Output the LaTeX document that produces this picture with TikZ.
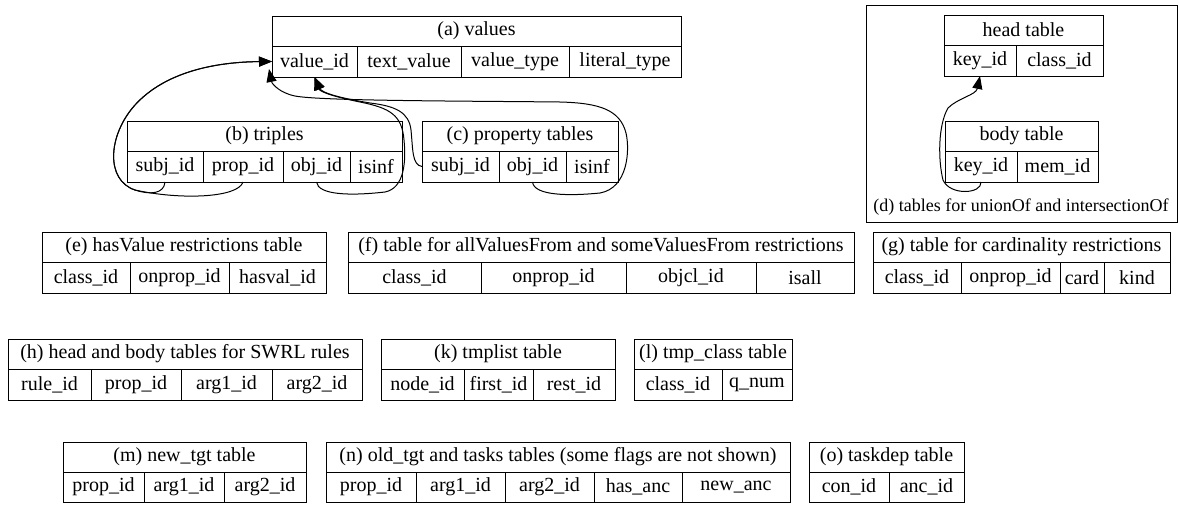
\documentclass[tikz,border=0pt]{standalone}
\usepackage{fontspec}
\setmainfont{Liberation Serif}
\usetikzlibrary{arrows.meta,calc}
\tikzset{
 cell/.style={draw=black, line width=0.8pt, inner sep=0pt, outer sep=0pt, anchor=north west, font=\fontsize{20}{24}\selectfont},
 edge/.style={draw=black, line width=1pt, -{Triangle[length=13pt,width=10pt]}},
 lbl/.style={inner sep=0pt, font=\fontsize{18}{22}\selectfont},
 cluster/.style={draw=black, line width=0.8pt, inner sep=0pt, anchor=north west}
}
\newcommand{\tblcell}[6]{\node[cell, minimum width=#4pt, minimum height=#5pt] (#1) at (#2,#3) {#6};}
\begin{document}
\begin{tikzpicture}[x=1pt,y=-1pt]
\useasboundingbox (0,0) rectangle (1179,504);
% (a)
\tblcell{a}{272}{16}{409}{30}{(a) values}
\tblcell{a1}{272}{46}{85}{31}{value\_id}
\tblcell{a2}{357}{46}{104}{31}{text\_value}
\tblcell{a3}{461}{46}{108}{31}{value\_type}
\tblcell{a4}{569}{46}{112}{31}{literal\_type}
% (b)
\tblcell{b}{127}{121}{275}{30}{(b) triples}
\tblcell{b1}{127}{151}{76}{31}{subj\_id}
\tblcell{b2}{203}{151}{80}{31}{prop\_id}
\tblcell{b3}{283}{151}{67}{31}{obj\_id}
\tblcell{b4}{350}{151}{52}{31}{isinf}
% (c)
\tblcell{c}{422}{121}{196}{30}{(c) property tables}
\tblcell{c1}{422}{151}{77}{31}{subj\_id}
\tblcell{c2}{499}{151}{67}{31}{obj\_id}
\tblcell{c3}{566}{151}{52}{31}{isinf}
% (d)
\node[cluster, minimum width=311pt, minimum height=217pt] (dbox) at (866,5) {};
\tblcell{hd}{944}{15}{159}{30}{head table}
\tblcell{hd1}{944}{45}{72}{31}{key\_id}
\tblcell{hd2}{1016}{45}{87}{31}{class\_id}
\tblcell{bd}{945}{121}{153}{30}{body table}
\tblcell{bd1}{945}{151}{72}{31}{key\_id}
\tblcell{bd2}{1017}{151}{81}{31}{mem\_id}
\node[lbl] (dlabel) at (1021,207) {(d) tables for unionOf and intersectionOf};
% (e)
\tblcell{e}{42}{232}{284}{30}{(e) hasValue restrictions table}
\tblcell{e1}{42}{262}{88}{31}{class\_id}
\tblcell{e2}{130}{262}{99}{31}{onprop\_id}
\tblcell{e3}{229}{262}{97}{31}{hasval\_id}
% (f)
\tblcell{f}{348}{232}{506}{30}{(f) table for allValuesFrom and someValuesFrom restrictions}
\tblcell{f1}{348}{262}{133}{31}{class\_id}
\tblcell{f2}{481}{262}{145}{31}{onprop\_id}
\tblcell{f3}{626}{262}{130}{31}{objcl\_id}
\tblcell{f4}{756}{262}{98}{31}{isall}
% (g)
\tblcell{g}{873}{232}{297}{30}{(g) table for cardinality restrictions}
\tblcell{g1}{873}{262}{88}{31}{class\_id}
\tblcell{g2}{961}{262}{99}{31}{onprop\_id}
\tblcell{g3}{1060}{262}{44}{31}{card}
\tblcell{g4}{1104}{262}{66}{31}{kind}
% (h)
\tblcell{h}{8}{339}{354}{30}{(h) head and body tables for SWRL rules}
\tblcell{h1}{8}{369}{83}{31}{rule\_id}
\tblcell{h2}{91}{369}{90}{31}{prop\_id}
\tblcell{h3}{181}{369}{91}{31}{arg1\_id}
\tblcell{h4}{272}{369}{90}{31}{arg2\_id}
% (k)
\tblcell{k}{381}{339}{234}{30}{(k) tmplist table}
\tblcell{k1}{381}{369}{83}{31}{node\_id}
\tblcell{k2}{464}{369}{69}{31}{first\_id}
\tblcell{k3}{533}{369}{82}{31}{rest\_id}
% (l)
\tblcell{l}{634}{339}{158}{30}{(l) tmp\_class table}
\tblcell{l1}{634}{369}{88}{31}{class\_id}
\tblcell{l2}{722}{369}{70}{31}{q\_num}
% (m)
\tblcell{m}{63}{442}{243}{30}{(m) new\_tgt table}
\tblcell{m1}{63}{472}{81}{30}{prop\_id}
\tblcell{m2}{144}{472}{80}{30}{arg1\_id}
\tblcell{m3}{224}{472}{82}{30}{arg2\_id}
% (n)
\tblcell{n}{326}{442}{464}{30}{(n) old\_tgt and tasks tables (some flags are not shown)}
\tblcell{n1}{326}{472}{90}{30}{prop\_id}
\tblcell{n2}{416}{472}{89}{30}{arg1\_id}
\tblcell{n3}{505}{472}{89}{30}{arg2\_id}
\tblcell{n4}{594}{472}{88}{30}{has\_anc}
\tblcell{n5}{682}{472}{108}{30}{new\_anc}
% (o)
\tblcell{o}{809}{442}{155}{30}{(o) taskdep table}
\tblcell{o1}{809}{472}{80}{30}{con\_id}
\tblcell{o2}{889}{472}{75}{30}{anc\_id}
% edges
\draw[edge] (b2.south) .. controls (238,198) and (180,200) .. (135,190) .. controls (105,180) and (108,135) .. (135,105) .. controls (165,72) and (215,62) .. (a1.west);
\draw[edge] (b1.south) .. controls (164,194) and (150,195) .. (135,190) .. controls (105,180) and (108,135) .. (135,105) .. controls (165,72) and (215,62) .. (a1.west);
\draw[edge] (b3.south) .. controls (318,195) and (350,196) .. (385,192) .. controls (405,188) and (406,160) .. (404,140) .. controls (402,115) and (390,108) .. (360,102) .. controls (335,97) and (320,92) .. (a1.south);
\draw[edge] (c1.west) .. controls (412,165) and (413,150) .. (411,130) .. controls (409,112) and (395,106) .. (370,103) .. controls (340,98) and (322,93) .. (a1.south);
\draw[edge] (c2.south) .. controls (534,196) and (570,196) .. (600,193) .. controls (628,188) and (630,150) .. (626,133) .. controls (620,110) and (600,103) .. (560,102) .. controls (470,101) and (320,101) .. (295,96) .. controls (280,93) and (272,84) .. ($(a1.south west)+(-3,-8)$);
\draw[edge] (bd1.south) .. controls (982,194) and (950,196) .. (943,180) .. controls (938,160) and (938,125) .. (948,108) .. controls (958,98) and (976,95) .. (hd1.south);
\end{tikzpicture}
\end{document}
